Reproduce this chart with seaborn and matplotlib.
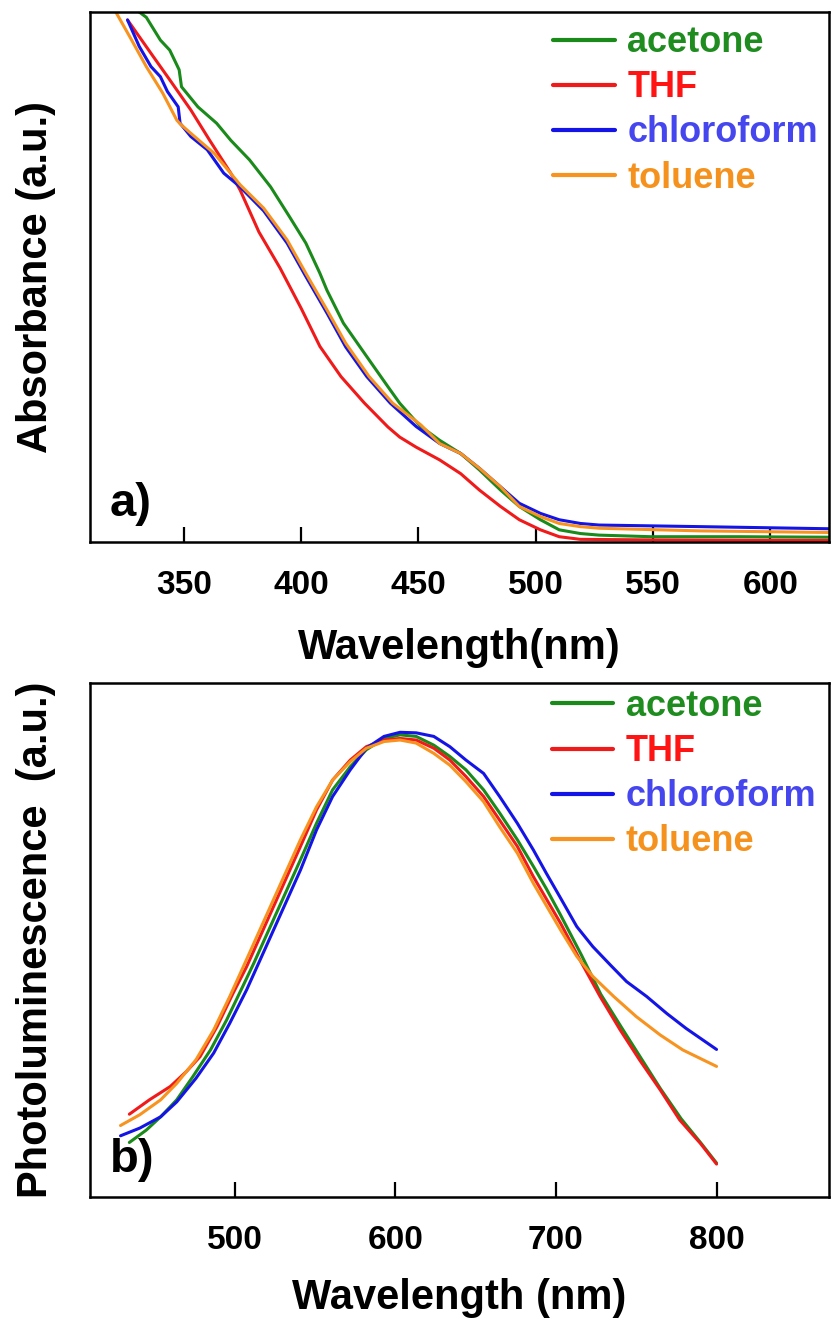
import matplotlib
matplotlib.use('Agg')
import matplotlib.pyplot as plt
import seaborn as sns

sns.set_theme(style='white')
plt.rcParams['font.family'] = ['Liberation Sans', 'DejaVu Sans']
plt.rcParams['font.weight'] = 'bold'
plt.rcParams['axes.labelweight'] = 'bold'

solvents = ['acetone', 'THF', 'chloroform', 'toluene']
line_colors = ['#1a8a1a', '#f01a1a', '#1414e6', '#f7931e']
text_colors = ['#1e8c1e', '#ff1414', '#4646ee', '#f5921e']

# (a) absorbance spectra, normalised (a.u.)
abs_acetone_nm = [325, 331, 334, 340, 344, 348, 349, 356, 364, 370, 378, 387, 395, 402, 408, 411,
                  418, 427, 437, 442, 448, 451, 459, 468, 476, 485, 493, 502, 510, 519, 527, 549, 587, 625]
abs_acetone = [1.01, 1.00, 0.99, 0.947, 0.928, 0.891, 0.859, 0.821, 0.790, 0.758, 0.721, 0.670, 0.614,
               0.564, 0.507, 0.475, 0.413, 0.356, 0.293, 0.262, 0.232, 0.218, 0.192, 0.167, 0.136, 0.098,
               0.067, 0.042, 0.023, 0.016, 0.013, 0.010, 0.010, 0.009]
abs_thf_nm = [326, 336, 344, 353, 361, 370, 374, 382, 391, 400, 408, 417, 427, 437, 442, 449, 459,
              468, 476, 485, 493, 502, 510, 519, 549, 625]
abs_thf = [0.985, 0.922, 0.872, 0.815, 0.758, 0.696, 0.664, 0.585, 0.517, 0.441, 0.369, 0.312, 0.262,
           0.217, 0.198, 0.179, 0.155, 0.129, 0.098, 0.067, 0.042, 0.023, 0.010, 0.005, 0.004, 0.003]
abs_chcl3_nm = [326, 331, 336, 340, 343, 347.6, 348.4, 353, 360, 367, 374, 384, 394, 402, 411, 419,
                428, 438, 449, 459, 468, 476, 485, 493, 502, 510, 519, 527, 570, 625]
abs_chcl3 = [0.985, 0.935, 0.897, 0.878, 0.850, 0.821, 0.790, 0.765, 0.740, 0.696, 0.670, 0.625, 0.564,
             0.501, 0.432, 0.368, 0.312, 0.262, 0.218, 0.186, 0.167, 0.139, 0.104, 0.073, 0.054, 0.042,
             0.035, 0.032, 0.029, 0.025]
abs_toluene_nm = [319, 321, 327, 334, 341, 347, 348.4, 353, 363, 374, 384, 394, 402, 411, 419, 429,
                  439, 451, 459, 468, 476, 485, 493, 502, 510, 519, 527, 570, 625]
abs_toluene = [1.01, 1.00, 0.953, 0.897, 0.847, 0.796, 0.789, 0.771, 0.733, 0.674, 0.630, 0.570, 0.507,
               0.438, 0.375, 0.312, 0.262, 0.221, 0.186, 0.167, 0.139, 0.104, 0.067, 0.048, 0.035,
               0.029, 0.026, 0.021, 0.018]

# (b) photoluminescence spectra, normalised (a.u.)
pl_acetone_nm = [434.5, 445, 454, 464, 474, 485, 495, 505, 512, 541, 551, 561, 572, 582, 593, 603, 613,
                 624, 634, 644, 655, 665, 676, 686, 694, 703, 716, 728, 741, 753, 765, 778, 790, 800]
pl_acetone = [0.106, 0.130, 0.156, 0.189, 0.234, 0.286, 0.344, 0.409, 0.455, 0.656, 0.727, 0.792, 0.837,
              0.870, 0.892, 0.899, 0.896, 0.879, 0.857, 0.831, 0.792, 0.747, 0.695, 0.643, 0.600, 0.548,
              0.470, 0.394, 0.329, 0.270, 0.211, 0.152, 0.106, 0.066]
pl_thf_nm = [434.5, 447, 460, 470, 478.5, 489, 499, 507.5, 541, 551, 561, 572, 582, 593, 603, 613, 624,
             634, 644, 655, 665, 676, 686, 703, 715, 727.5, 740, 752, 765, 777, 790, 800]
pl_thf = [0.161, 0.189, 0.215, 0.244, 0.273, 0.331, 0.396, 0.448, 0.682, 0.753, 0.811, 0.850, 0.876,
          0.889, 0.892, 0.889, 0.873, 0.850, 0.818, 0.779, 0.733, 0.682, 0.623, 0.532, 0.461, 0.390,
          0.325, 0.267, 0.208, 0.150, 0.104, 0.064]
pl_chcl3_nm = [429, 441, 454, 464, 476, 487, 497, 507.5, 515, 541, 551, 561, 572, 582, 593, 603, 613,
               624, 634, 644, 655, 665, 676, 686, 694, 703, 713, 723, 734, 744, 756.5, 769, 781, 800]
pl_chcl3 = [0.119, 0.134, 0.156, 0.185, 0.231, 0.280, 0.338, 0.403, 0.455, 0.636, 0.714, 0.779, 0.831,
            0.873, 0.896, 0.904, 0.903, 0.896, 0.876, 0.850, 0.824, 0.779, 0.727, 0.675, 0.630, 0.581,
            0.526, 0.487, 0.451, 0.419, 0.390, 0.357, 0.328, 0.287]
pl_toluene_nm = [429, 441, 454, 464, 470, 476, 487, 497, 505, 541, 551, 561, 572, 582, 593, 603, 613,
                 624, 634, 644, 655, 665, 676, 686, 703, 713, 723, 736, 750, 765, 779, 800]
pl_toluene = [0.139, 0.160, 0.189, 0.221, 0.244, 0.267, 0.325, 0.390, 0.445, 0.695, 0.759, 0.811, 0.847,
              0.873, 0.886, 0.889, 0.883, 0.863, 0.840, 0.808, 0.769, 0.720, 0.669, 0.610, 0.519, 0.468,
              0.429, 0.390, 0.351, 0.315, 0.286, 0.254]

abs_ticks = [350, 400, 450, 500, 550, 600]
pl_ticks = [500, 600, 700, 800]

abs_series = [(abs_acetone_nm, abs_acetone), (abs_thf_nm, abs_thf),
              (abs_chcl3_nm, abs_chcl3), (abs_toluene_nm, abs_toluene)]
pl_series = [(pl_acetone_nm, pl_acetone), (pl_thf_nm, pl_thf),
             (pl_chcl3_nm, pl_chcl3), (pl_toluene_nm, pl_toluene)]

fig = plt.figure(figsize=(8.31, 13.21), dpi=100)
ax_a = fig.add_axes([0.1083, 0.5897, 0.8893, 0.4012])
ax_b = fig.add_axes([0.1083, 0.0939, 0.8893, 0.3891])


def draw_panel(ax, series, xlim, ticks, xlabel, ylabel, tag, legend_anchor, xlabel_y):
    for (x, y), name, col in zip(series, solvents, line_colors):
        sns.lineplot(x=x, y=y, ax=ax, color=col, linewidth=2.2, estimator=None,
                     sort=False, label=name, legend=False)
    ax.set_xlim(*xlim)
    ax.set_ylim(0, 1.0)
    ax.set_xticks(ticks)
    ax.set_yticks([])
    ax.tick_params(axis='x', direction='in', length=11, width=1.6, pad=20,
                   labelsize=24, bottom=True, top=False, colors='black')
    for sp in ax.spines.values():
        sp.set_visible(True)
        sp.set_color('black')
        sp.set_linewidth(1.8)
    ax.set_xlabel(xlabel, fontsize=30, color='black')
    ax.set_ylabel(ylabel, fontsize=30, color='black')
    ax.xaxis.set_label_coords(0.5, xlabel_y)
    ax.yaxis.set_label_coords(-0.046, 0.5)
    ax.text(0.027, 0.03, tag, transform=ax.transAxes, fontsize=34,
            fontweight='bold', ha='left', va='bottom', color='black')
    handles = ax.get_lines()[:4]
    leg = ax.legend(handles, solvents, loc='upper left', bbox_to_anchor=legend_anchor,
                    frameon=False, fontsize=26, handlelength=1.7, handletextpad=0.35,
                    labelspacing=0.28, borderpad=0, borderaxespad=0, labelcolor=text_colors)
    for ln in leg.get_lines():
        ln.set_linewidth(3)


draw_panel(ax_a, abs_series, (310, 625), abs_ticks, 'Wavelength(nm)', 'Absorbance (a.u.)',
           'a)', (0.627, 0.975), -0.162)
draw_panel(ax_b, pl_series, (410, 870), pl_ticks, 'Wavelength (nm)', 'Photoluminescence  (a.u.)',
           'b)', (0.625, 0.988), -0.158)

fig.savefig('out.png', dpi=100)
plt.close(fig)
print('Saved out.png')
